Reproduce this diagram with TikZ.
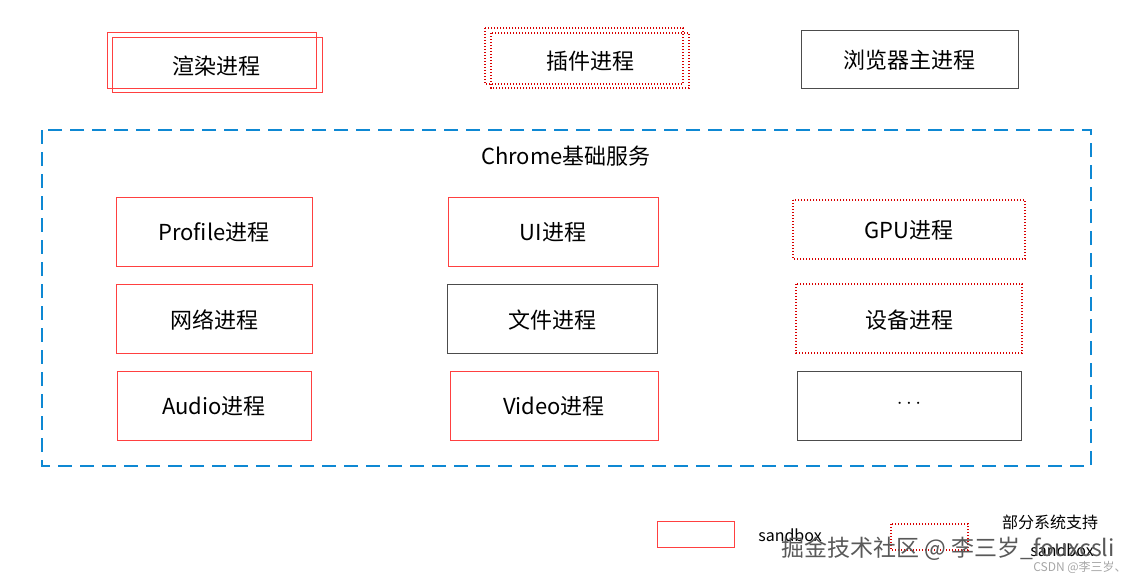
\documentclass[tikz,border=0pt]{standalone}
\usepackage{fontspec}
\setmainfont{Noto Sans CJK SC}
\begin{document}
\begin{tikzpicture}[x=1pt,y=-1pt,
  sb/.style={draw=red!75!white,line width=0.8pt},
  pt/.style={draw=red!85!black,dash pattern=on 1.2pt off 1.8pt,line width=1.2pt},
  gb/.style={draw=black!70,line width=0.8pt},
  lbl/.style={font=\fontsize{22}{24}\selectfont}]
\useasboundingbox (0,0) rectangle (1142,582);
% top
\draw[sb] (107,32) rectangle (316,88);
\draw[sb] (112,37) rectangle (322,92);
\node[lbl] (r) at (216,66) {渲染进程};
\draw[pt] (485,28) rectangle (683,84);
\draw[pt] (491,33) rectangle (689,88);
\node[lbl] (p) at (590,61) {插件进程};
\draw[gb] (801,30) rectangle (1018,88);
\node[lbl] (b) at (909,60) {浏览器主进程};
% container
\draw[draw=cyan!70!blue,dash pattern=on 14pt off 8pt,line width=2pt] (42,130) rectangle (1091,466);
\node[lbl] (c) at (566,156) {Chrome基础服务};
% rows
\draw[sb] (116,197) rectangle (312,266); \node[lbl] (n1) at (214,232) {Profile进程};
\draw[sb] (448,197) rectangle (658,266); \node[lbl] (n2) at (553,232) {UI进程};
\draw[pt] (793,200) rectangle (1025,259); \node[lbl] (n3) at (909,230) {GPU进程};
\draw[sb] (116,284) rectangle (312,353); \node[lbl] (n4) at (214,320) {网络进程};
\draw[gb] (447,284) rectangle (657,353); \node[lbl] (n5) at (552,320) {文件进程};
\draw[pt] (796,284) rectangle (1022,353); \node[lbl] (n6) at (909,320) {设备进程};
\draw[sb] (117,371) rectangle (311,440); \node[lbl] (n7) at (214,406) {Audio进程};
\draw[sb] (450,371) rectangle (658,440); \node[lbl] (n8) at (554,406) {Video进程};
\draw[gb] (797,371) rectangle (1021,440); \node[lbl,font=\bfseries\fontsize{22}{24}\selectfont] (n9) at (909,404) {$\cdots$};
% legend
\draw[sb] (657,521) rectangle (734,547);
\node[font=\fontsize{16}{18}\selectfont] (l1) at (790,535) {sandbox};
\draw[pt] (891,524) rectangle (968,550);
\node[font=\fontsize{16}{18}\selectfont] (l2) at (1050,522) {部分系统支持};
\node[font=\fontsize{16}{18}\selectfont] (l3) at (1062,550) {sandbox};
% watermark
\node[font=\fontsize{23}{25}\selectfont,text=black!65] (w1) at (948,549) {掘金技术社区 @ 李三岁\_fouxcsli};
\node[font=\fontsize{12}{14}\selectfont,text=black!35] (w2) at (1080,567) {CSDN @李三岁、};
\end{tikzpicture}
\end{document}
